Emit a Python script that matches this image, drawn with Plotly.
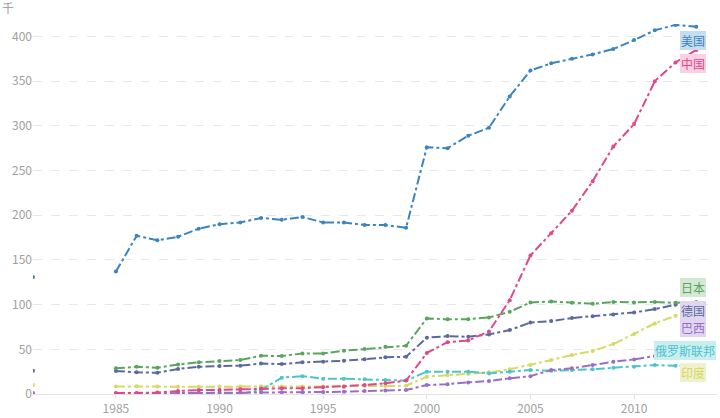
import plotly.graph_objects as go

years = list(range(1981, 2014))

usa = [131, None, None, None, 137, 177, 172, 176, 185, 190, 192, 197, 195, 198, 192, 192,
       189, 189, 186, 276, 275, 289, 298, 333, 362, 370, 375, 380, 386, 396, 407, 413, 411]
china = [None, None, None, None, 1.0, 1.2, 1.6, 3.3, 4.4, 4.6, 5.2, 6.2, 6.3, 6.5, 7.5, 8.2,
         10, 12, 15, 46, 58, 60, 70, 105, 155, 180, 205, 238, 277, 302, 350, 371, 385]
japan = [None, None, None, None, 28.7, 30.5, 29.4, 33, 35.4, 36.9, 38, 42.8, 42.5, 45.4, 45.4,
         48.4, 50.3, 52.9, 54, 84.6, 83.5, 83.7, 85.7, 92, 102.5, 103.5, 102, 101, 103, 102.5,
         103, 102, 103]
germany = [26, None, None, None, 25.7, 24.2, 23.8, 28, 30.5, 31.3, 31.7, 34, 33.5, 35.4, 36,
           37.2, 39, 41, 41.7, 63, 64.8, 64, 66.7, 71.5, 80, 81.6, 85, 87, 89, 91.3, 95, 100, 101]
india = [10, None, None, None, 8.5, 8.8, 8.3, 8.0, 8.2, 8.3, 8.5, 8.8, 8.3, 8.5, 8.5, 9, 9, 9,
         9.2, 19.4, 21, 22.3, 24.2, 27.6, 32.4, 38, 43.6, 48, 55.9, 67, 79, 87.5, 90]
brazil = [1, None, None, None, 0.5, 0.6, 0.8, 1.0, 1.3, 1.6, 1.8, 2.0, 2.0, 2.1, 2.2, 2.6, 3.3,
          4.0, 4.5, 10, 11, 13, 14.5, 17.5, 20, 26.8, 28.7, 32.4, 36, 38.7, 42.5, 45, 47]
russia = [None, None, None, None, 0, 0, 0, 0, 0, 0, 0, 4.5, 18.3, 20, 17, 17, 16.4, 15.6, 15,
          25, 25, 25, 23, 25, 26.8, 26, 26.8, 27.6, 29.4, 30.5, 32.4, 31.6, 32]

# name, values, line colour, label background, label position (shifted so labels don't collide)
series = [
    ("印度", india, "#d6d964", "#f0f0cc", 2012.85, 24.6),
    ("俄罗斯联邦", russia, "#4cc4cc", "#c9eef0", 2012.45, 49),
    ("巴西", brazil, "#9b6ec4", "#e0d6f0", 2012.85, 74),
    ("德国", germany, "#5a6a9f", "#e0d6f0", 2012.85, 93),
    ("日本", japan, "#5aa55e", "#d4e8d3", 2012.85, 119.5),
    ("中国", china, "#e2478a", "#f8d2e2", 2012.85, 370),
    ("美国", usa, "#3a84bf", "#c8dcef", 2012.85, 395.5),
]

fig = go.Figure()

for name, vals, color, bg, label_x, label_y in series:
    fig.add_trace(go.Scatter(
        x=years, y=vals, name=name, mode="lines+markers",
        line=dict(color=color, width=2, dash="dashdot"),
        marker=dict(color=color, size=4),
        connectgaps=False,
    ))
    fig.add_annotation(
        x=label_x, y=label_y, xref="x", yref="y", text=name, showarrow=False,
        xanchor="center", yanchor="middle",
        font=dict(color=color, size=12, family="Noto Sans CJK SC"),
        bgcolor=bg, bordercolor=bg, borderwidth=0, borderpad=1,
    )

fig.add_annotation(
    x=-0.037, y=1.0, xref="paper", yref="paper", text="千", showarrow=False,
    xanchor="center", yanchor="bottom", yshift=6,
    font=dict(color="#999999", size=12, family="Noto Sans CJK SC"),
)

fig.update_layout(
    width=720, height=418,
    margin=dict(l=33, r=3, t=24, b=24),
    plot_bgcolor="white", paper_bgcolor="white",
    showlegend=False,
    font=dict(family="Noto Sans CJK SC", color="#999999", size=12),
    xaxis=dict(
        range=[1981, 2014], tickvals=[1985, 1990, 1995, 2000, 2005, 2010],
        showgrid=False, zeroline=False, showline=True, linecolor="#e3e3e3", linewidth=1,
        ticks="outside", ticklen=4, tickcolor="#e3e3e3",
        tickfont=dict(color="#a0a0a0", size=12),
    ),
    yaxis=dict(
        range=[0, 414], tickvals=list(range(0, 401, 50)),
        showgrid=True, gridcolor="#e8e8e8", griddash="dash", gridwidth=1,
        zeroline=False, showline=False, ticks="",
        tickfont=dict(color="#a0a0a0", size=12),
    ),
)

fig.write_html(
    "out.html",
    config={"displayModeBar": False},
    post_script="document.body.style.margin = '0';",
)
